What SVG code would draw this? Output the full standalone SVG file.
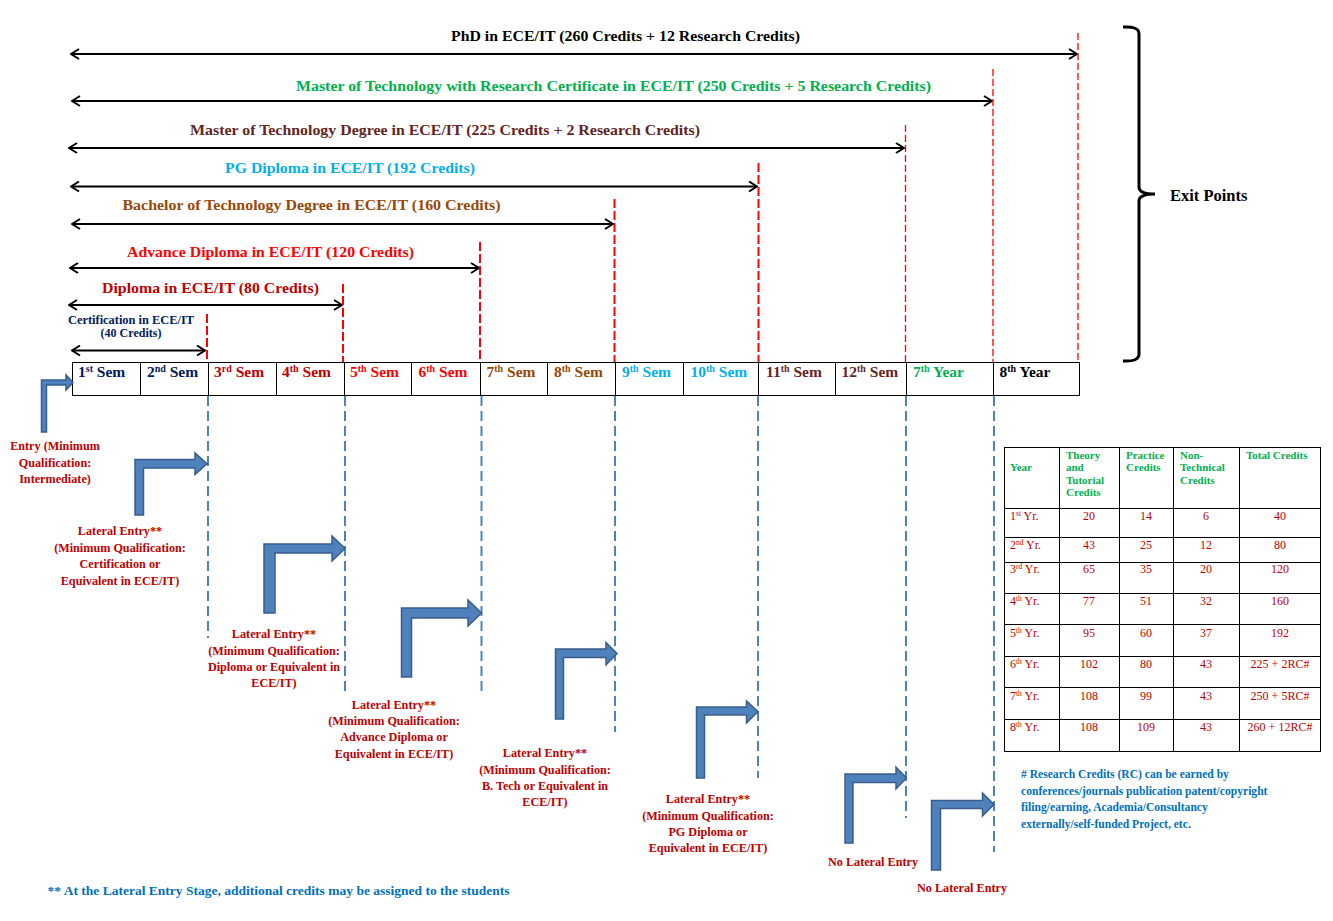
<svg xmlns="http://www.w3.org/2000/svg" width="1333" height="921" viewBox="0 0 1333 921">
<style>
text{font-family:"Liberation Serif","Times New Roman",serif;font-weight:bold}
.lbl{font-size:15px;text-anchor:middle}
.sem{font-size:15.5px}
.sup{font-size:10px}
.ent{font-size:12.2px;fill:#C00000;text-anchor:middle}
.hd{font-size:11px;fill:#00B050}
.td{font-size:12px;fill:#C00000;font-weight:normal;text-anchor:middle}
.ty{font-size:12px;fill:#C00000;font-weight:normal}
.tys{font-size:7.5px;fill:#C00000;font-weight:normal}
.note{font-size:11.6px;fill:#0070C0}
.harr{stroke:#000;stroke-width:2;fill:none;marker-start:url(#ch);marker-end:url(#ch)}
.rd{stroke:#FF0000;stroke-width:2;stroke-dasharray:9 3;fill:none}
.rdt{stroke:#FF0000;stroke-width:1.3;stroke-dasharray:7 3;fill:none}
.bd{stroke:#4F81BD;stroke-width:2;stroke-dasharray:10 5;fill:none}
.bent{fill:#4F81BD;stroke:#385D8A;stroke-width:1.5;stroke-linejoin:miter}
.cell{fill:none;stroke:#000;stroke-width:1}
</style>
<defs>
<marker id="ch" viewBox="0 0 10 12" refX="9" refY="6" markerWidth="10" markerHeight="12" markerUnits="userSpaceOnUse" orient="auto-start-reverse">
<polyline points="1,1 9,6 1,11" fill="none" stroke="#000" stroke-width="2"/>
</marker>
</defs>
<rect width="1333" height="921" fill="#fff"/>

<g id="connectors">
<line class="harr" x1="71" y1="54" x2="1077" y2="54"/>
<line class="harr" x1="72" y1="101" x2="992" y2="101"/>
<line class="harr" x1="69" y1="148" x2="904" y2="148"/>
<line class="harr" x1="71" y1="186.5" x2="757" y2="186.5"/>
<line class="harr" x1="72" y1="224" x2="613" y2="224"/>
<line class="harr" x1="70" y1="268" x2="479" y2="268"/>
<line class="harr" x1="69" y1="305" x2="342" y2="305"/>
<line class="harr" x1="72" y1="350.5" x2="205" y2="350.5"/>
<line class="rdt" x1="1078" y1="33" x2="1078" y2="362"/>
<line class="rdt" x1="993" y1="69" x2="993" y2="362"/>
<line class="rdt" x1="905.5" y1="125" x2="905.5" y2="362"/>
<line class="rd" x1="758.5" y1="163" x2="758.5" y2="362"/>
<line class="rd" x1="614.5" y1="199" x2="614.5" y2="362"/>
<line class="rd" x1="480" y1="242" x2="480" y2="362"/>
<line class="rd" x1="343" y1="284" x2="343" y2="362"/>
<line class="rd" x1="207" y1="314" x2="207" y2="362"/>
<line class="bd" x1="208" y1="396" x2="208" y2="638"/>
<line class="bd" x1="345" y1="396" x2="345" y2="692"/>
<line class="bd" x1="481.5" y1="396" x2="481.5" y2="693"/>
<line class="bd" x1="615" y1="396" x2="615" y2="732"/>
<line class="bd" x1="758" y1="396" x2="758" y2="778"/>
<line class="bd" x1="906" y1="396" x2="906" y2="818"/>
<line class="bd" x1="994" y1="396" x2="994" y2="852"/>
</g>

<g id="programs">
<text class="lbl" x="625.5" y="41" fill="#000" textLength="349" lengthAdjust="spacingAndGlyphs">PhD in ECE/IT (260 Credits + 12 Research Credits)</text>
<text class="lbl" x="613.5" y="90.5" fill="#00B050" textLength="635" lengthAdjust="spacingAndGlyphs">Master of Technology with Research Certificate in ECE/IT (250 Credits + 5 Research Credits)</text>
<text class="lbl" x="445" y="135" fill="#632523" textLength="510" lengthAdjust="spacingAndGlyphs">Master of Technology Degree in ECE/IT (225 Credits + 2 Research Credits)</text>
<text class="lbl" x="350" y="173" fill="#00B0F0" textLength="250" lengthAdjust="spacingAndGlyphs">PG Diploma in ECE/IT (192 Credits)</text>
<text class="lbl" x="311.5" y="210" fill="#974806" textLength="378" lengthAdjust="spacingAndGlyphs">Bachelor of Technology Degree in ECE/IT (160 Credits)</text>
<text class="lbl" x="270.5" y="256.5" fill="#FF0000" textLength="287" lengthAdjust="spacingAndGlyphs">Advance Diploma in ECE/IT (120 Credits)</text>
<text class="lbl" x="210.5" y="292.5" fill="#C00000" textLength="217" lengthAdjust="spacingAndGlyphs">Diploma in ECE/IT (80 Credits)</text>
<text x="131" y="323.5" fill="#002060" font-size="12" text-anchor="middle" textLength="126" lengthAdjust="spacingAndGlyphs">Certification in ECE/IT</text>
<text x="131" y="337" fill="#002060" font-size="12" text-anchor="middle">(40 Credits)</text>
</g>

<g id="exit-points">
<path d="M1123,27 Q1139,26 1139,34 L1139,187 Q1139,194 1155,194 Q1139,194 1139,201 L1139,354 Q1139,362 1123,361" fill="none" stroke="#000" stroke-width="3"/>
<text x="1170" y="200.5" font-size="16.5" fill="#000">Exit Points</text>
</g>

<g id="semesters">
<rect class="cell" x="72.5" y="362.5" width="1007" height="33"/>
<line class="cell" x1="140.5" y1="362.5" x2="140.5" y2="395.5"/>
<line class="cell" x1="208.5" y1="362.5" x2="208.5" y2="395.5"/>
<line class="cell" x1="276.5" y1="362.5" x2="276.5" y2="395.5"/>
<line class="cell" x1="344.5" y1="362.5" x2="344.5" y2="395.5"/>
<line class="cell" x1="411.5" y1="362.5" x2="411.5" y2="395.5"/>
<line class="cell" x1="480.5" y1="362.5" x2="480.5" y2="395.5"/>
<line class="cell" x1="547.5" y1="362.5" x2="547.5" y2="395.5"/>
<line class="cell" x1="615.5" y1="362.5" x2="615.5" y2="395.5"/>
<line class="cell" x1="683.5" y1="362.5" x2="683.5" y2="395.5"/>
<line class="cell" x1="758.5" y1="362.5" x2="758.5" y2="395.5"/>
<line class="cell" x1="835.5" y1="362.5" x2="835.5" y2="395.5"/>
<line class="cell" x1="906.5" y1="362.5" x2="906.5" y2="395.5"/>
<line class="cell" x1="993.5" y1="362.5" x2="993.5" y2="395.5"/>
<text class="sem" x="78" y="377" fill="#002060">1<tspan class="sup" dy="-5">st</tspan><tspan dy="5"> Sem</tspan></text>
<text class="sem" x="147" y="377" fill="#002060">2<tspan class="sup" dy="-5">nd</tspan><tspan dy="5"> Sem</tspan></text>
<text class="sem" x="214" y="377" fill="#C00000">3<tspan class="sup" dy="-5">rd</tspan><tspan dy="5"> Sem</tspan></text>
<text class="sem" x="282" y="377" fill="#C00000">4<tspan class="sup" dy="-5">th</tspan><tspan dy="5"> Sem</tspan></text>
<text class="sem" x="350" y="377" fill="#FF0000">5<tspan class="sup" dy="-5">th</tspan><tspan dy="5"> Sem</tspan></text>
<text class="sem" x="418.5" y="377" fill="#FF0000">6<tspan class="sup" dy="-5">th</tspan><tspan dy="5"> Sem</tspan></text>
<text class="sem" x="486.5" y="377" fill="#974806">7<tspan class="sup" dy="-5">th</tspan><tspan dy="5"> Sem</tspan></text>
<text class="sem" x="554" y="377" fill="#974806">8<tspan class="sup" dy="-5">th</tspan><tspan dy="5"> Sem</tspan></text>
<text class="sem" x="622" y="377" fill="#00B0F0">9<tspan class="sup" dy="-5">th</tspan><tspan dy="5"> Sem</tspan></text>
<text class="sem" x="690.5" y="377" fill="#00B0F0">10<tspan class="sup" dy="-5">th</tspan><tspan dy="5"> Sem</tspan></text>
<text class="sem" x="766" y="377" fill="#632523">11<tspan class="sup" dy="-5">th</tspan><tspan dy="5"> Sem</tspan></text>
<text class="sem" x="841.5" y="377" fill="#632523">12<tspan class="sup" dy="-5">th</tspan><tspan dy="5"> Sem</tspan></text>
<text class="sem" x="913" y="377" fill="#00B050">7<tspan class="sup" dy="-5">th</tspan><tspan dy="5"> Year</tspan></text>
<text class="sem" x="999.5" y="377" fill="#000">8<tspan class="sup" dy="-5">th</tspan><tspan dy="5"> Year</tspan></text>
</g>

<g id="entry-1">
<path class="bent" d="M41.5,432 L41.5,380 L66,380 L66,375 L73,382.5 L66,390 L66,385 L46.5,385 L46.5,432 Z"/>
<text class="ent" x="55" y="450">Entry (Minimum</text>
<text class="ent" x="55" y="466.5">Qualification:</text>
<text class="ent" x="55" y="483">Intermediate)</text>
</g>
<g id="entry-2">
<path class="bent" d="M135,515 L135,459.5 L195,459.5 L195,453 L207,463.75 L195,474.5 L195,468 L143.5,468 L143.5,515 Z"/>
<text class="ent" x="120" y="535">Lateral Entry**</text>
<text class="ent" x="120" y="551.5">(Minimum Qualification:</text>
<text class="ent" x="120" y="568">Certification or</text>
<text class="ent" x="120" y="584.5">Equivalent in ECE/IT)</text>
</g>
<g id="entry-3">
<path class="bent" d="M264,613 L264,544 L332,544 L332,536 L345,548.5 L332,561 L332,553 L275,553 L275,613 Z"/>
<text class="ent" x="274" y="638">Lateral Entry**</text>
<text class="ent" x="274" y="654.5">(Minimum Qualification:</text>
<text class="ent" x="274" y="670.5">Diploma or Equivalent in</text>
<text class="ent" x="274" y="687">ECE/IT)</text>
</g>
<g id="entry-4">
<path class="bent" d="M401.5,677 L401.5,608 L468,608 L468,600 L481.5,613 L468,626 L468,618 L411.5,618 L411.5,677 Z"/>
<text class="ent" x="394" y="708.5">Lateral Entry**</text>
<text class="ent" x="394" y="725">(Minimum Qualification:</text>
<text class="ent" x="394" y="741">Advance Diploma or</text>
<text class="ent" x="394" y="757.5">Equivalent in ECE/IT)</text>
</g>
<g id="entry-5">
<path class="bent" d="M555.5,719 L555.5,649 L606,649 L606,642.5 L617,653.5 L606,665 L606,657.5 L563.5,657.5 L563.5,719 Z"/>
<text class="ent" x="545" y="757">Lateral Entry**</text>
<text class="ent" x="545" y="773.5">(Minimum Qualification:</text>
<text class="ent" x="545" y="789.5">B. Tech or Equivalent in</text>
<text class="ent" x="545" y="806">ECE/IT)</text>
</g>
<g id="entry-6">
<path class="bent" d="M696.5,778 L696.5,707 L746.5,707 L746.5,701 L758,711.5 L746.5,723 L746.5,715 L704.5,715 L704.5,778 Z"/>
<text class="ent" x="708" y="803">Lateral Entry**</text>
<text class="ent" x="708" y="819.5">(Minimum Qualification:</text>
<text class="ent" x="708" y="835.5">PG Diploma or</text>
<text class="ent" x="708" y="852">Equivalent in ECE/IT)</text>
</g>
<g id="entry-7">
<path class="bent" d="M845,843 L845,774 L896,774 L896,767 L906.5,778 L896,789 L896,782.5 L853,782.5 L853,843 Z"/>
<text class="ent" x="873" y="866">No Lateral Entry</text>
</g>
<g id="entry-8">
<path class="bent" d="M931.5,870 L931.5,800.5 L982.5,800.5 L982.5,793 L994,804.5 L982.5,816 L982.5,808.5 L940.5,808.5 L940.5,870 Z"/>
<text class="ent" x="962" y="891.5">No Lateral Entry</text>
</g>

<g id="credits-table">
<rect class="cell" x="1004.5" y="447.5" width="316" height="304"/>
<line class="cell" x1="1059.5" y1="447.5" x2="1059.5" y2="751.5"/>
<line class="cell" x1="1119.5" y1="447.5" x2="1119.5" y2="751.5"/>
<line class="cell" x1="1173.5" y1="447.5" x2="1173.5" y2="751.5"/>
<line class="cell" x1="1239.5" y1="447.5" x2="1239.5" y2="751.5"/>
<line class="cell" x1="1004.5" y1="508.5" x2="1320.5" y2="508.5"/>
<line class="cell" x1="1004.5" y1="537.5" x2="1320.5" y2="537.5"/>
<line class="cell" x1="1004.5" y1="562.5" x2="1320.5" y2="562.5"/>
<line class="cell" x1="1004.5" y1="593.5" x2="1320.5" y2="593.5"/>
<line class="cell" x1="1004.5" y1="624.5" x2="1320.5" y2="624.5"/>
<line class="cell" x1="1004.5" y1="656.5" x2="1320.5" y2="656.5"/>
<line class="cell" x1="1004.5" y1="687.5" x2="1320.5" y2="687.5"/>
<line class="cell" x1="1004.5" y1="719.5" x2="1320.5" y2="719.5"/>
<text class="hd" x="1010" y="471">Year</text>
<text class="hd" x="1066" y="459">Theory</text>
<text class="hd" x="1066" y="471">and</text>
<text class="hd" x="1066" y="483.5">Tutorial</text>
<text class="hd" x="1066" y="496">Credits</text>
<text class="hd" x="1126" y="459">Practice</text>
<text class="hd" x="1126" y="471">Credits</text>
<text class="hd" x="1180" y="459">Non-</text>
<text class="hd" x="1180" y="471">Technical</text>
<text class="hd" x="1180" y="483.5">Credits</text>
<text class="hd" x="1246" y="459">Total Credits</text>

<text class="ty" x="1010" y="519.5">1<tspan class="tys" dy="-4">st</tspan><tspan dy="4"> Yr.</tspan></text>
<text class="td" x="1089" y="519.5">20</text><text class="td" x="1146" y="519.5">14</text><text class="td" x="1206" y="519.5">6</text><text class="td" x="1280" y="519.5">40</text>
<text class="ty" x="1010" y="548.5">2<tspan class="tys" dy="-4">nd</tspan><tspan dy="4"> Yr.</tspan></text>
<text class="td" x="1089" y="548.5">43</text><text class="td" x="1146" y="548.5">25</text><text class="td" x="1206" y="548.5">12</text><text class="td" x="1280" y="548.5">80</text>
<text class="ty" x="1010" y="573">3<tspan class="tys" dy="-4">rd</tspan><tspan dy="4"> Yr.</tspan></text>
<text class="td" x="1089" y="573">65</text><text class="td" x="1146" y="573">35</text><text class="td" x="1206" y="573">20</text><text class="td" x="1280" y="573">120</text>
<text class="ty" x="1010" y="604.5">4<tspan class="tys" dy="-4">th</tspan><tspan dy="4"> Yr.</tspan></text>
<text class="td" x="1089" y="604.5">77</text><text class="td" x="1146" y="604.5">51</text><text class="td" x="1206" y="604.5">32</text><text class="td" x="1280" y="604.5">160</text>
<text class="ty" x="1010" y="636.5">5<tspan class="tys" dy="-4">th</tspan><tspan dy="4"> Yr.</tspan></text>
<text class="td" x="1089" y="636.5">95</text><text class="td" x="1146" y="636.5">60</text><text class="td" x="1206" y="636.5">37</text><text class="td" x="1280" y="636.5">192</text>
<text class="ty" x="1010" y="668">6<tspan class="tys" dy="-4">th</tspan><tspan dy="4"> Yr.</tspan></text>
<text class="td" x="1089" y="668">102</text><text class="td" x="1146" y="668">80</text><text class="td" x="1206" y="668">43</text><text class="td" x="1280" y="668">225 + 2RC#</text>
<text class="ty" x="1010" y="699.5">7<tspan class="tys" dy="-4">th</tspan><tspan dy="4"> Yr.</tspan></text>
<text class="td" x="1089" y="699.5">108</text><text class="td" x="1146" y="699.5">99</text><text class="td" x="1206" y="699.5">43</text><text class="td" x="1280" y="699.5">250 + 5RC#</text>
<text class="ty" x="1010" y="730.5">8<tspan class="tys" dy="-4">th</tspan><tspan dy="4"> Yr.</tspan></text>
<text class="td" x="1089" y="730.5">108</text><text class="td" x="1146" y="730.5">109</text><text class="td" x="1206" y="730.5">43</text><text class="td" x="1280" y="730.5">260 + 12RC#</text>
</g>

<g id="notes">
<text class="note" x="1021" y="778">
<tspan x="1021" y="778"># Research Credits (RC) can be earned by</tspan>
<tspan x="1021" y="794.5">conferences/journals publication patent/copyright</tspan>
<tspan x="1021" y="811">filing/earning, Academia/Consultancy</tspan>
<tspan x="1021" y="828">externally/self-funded Project, etc.</tspan>
</text>
<text class="note" x="47.5" y="894.5" font-size="12.2" textLength="462" lengthAdjust="spacingAndGlyphs">** At the Lateral Entry Stage, additional credits may be assigned to the students</text>
</g>
</svg>
